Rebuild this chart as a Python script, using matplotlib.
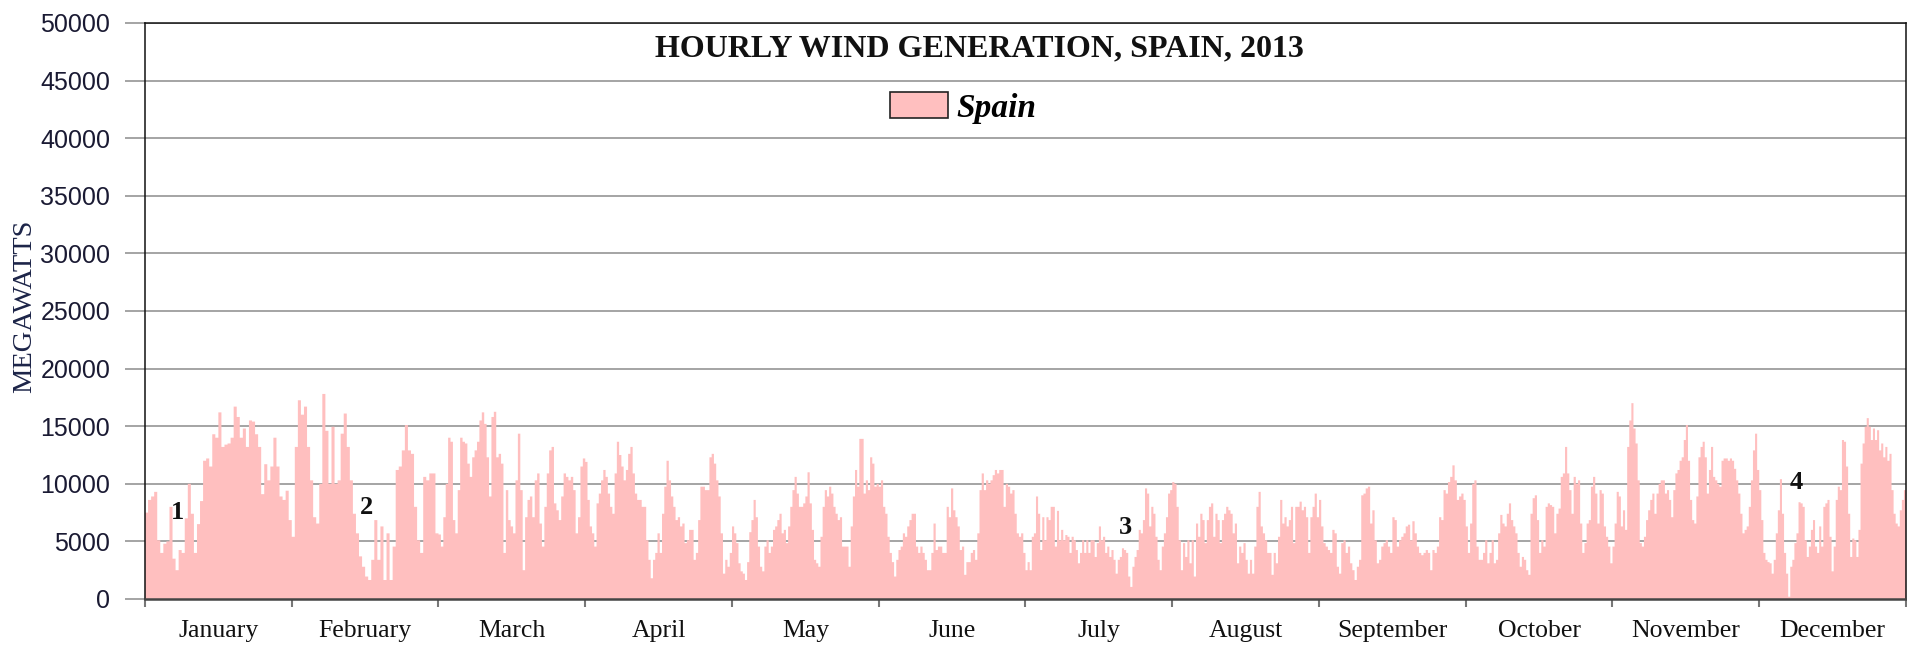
import numpy as np
import matplotlib
matplotlib.use("Agg")
import matplotlib.pyplot as plt
from matplotlib.patches import Patch

# hourly wind output, roughly two readings per day,
# one list per 730-hour month slot of the x axis
jan = [7500, 8600, 8900, 9300, 5100, 4000, 4800, 5000, 8000, 3500, 2500, 4250, 4000, 7000, 10000, 7400,
       4000, 6500, 8500, 12000, 12200, 11500, 14300, 14000, 16200, 13200, 13400, 13500, 14000, 16700, 15800,
       14000, 14800, 13200, 15500, 15400, 14300, 13200, 9100, 11700, 10300, 11500, 14000, 11500, 8900, 8600,
       9400, 6850]
feb = [5400, 13200, 17250, 16000, 16700, 13200, 10300, 7100, 6550, 10000, 17800, 14600, 10000, 14950, 10000,
       10300, 14350, 16100, 13200, 10300, 7400, 5700, 3700, 2800, 1950, 1650, 3400, 6850, 3400, 6300, 1650,
       5700, 1650, 4550, 11200, 11500, 12900, 15100, 12900, 12600, 8000, 5100, 4000, 10600, 10300, 10900,
       10900, 5700]
mar = [5600, 4550, 7100, 10000, 14000, 13650, 6850, 5700, 9450, 14000, 13650, 13500, 11750, 10600, 12300,
       12900, 13650, 15500, 16200, 15200, 12300, 8900, 15800, 16250, 12300, 12600, 11750, 4000, 9450, 6850,
       6300, 5700, 10300, 14350, 9450, 2500, 7100, 8600, 8900, 7100, 10300, 10900, 6550, 4550, 8000, 10900,
       12900, 13200, 8300, 7700, 6850, 8900, 10900, 10600, 10300, 10600, 9450, 5700, 7100, 11500, 12200]
apr = [11900, 8600, 6300, 5700, 4550, 8300, 9150, 10300, 11200, 10600, 9150, 8000, 7400, 10900, 13650, 12500,
       11500, 10300, 11200, 12600, 13200, 10900, 9150, 8600, 8600, 8000, 8000, 5100, 3400, 1800, 3400, 4000,
       5700, 4000, 7400, 9750, 12000, 10300, 8900, 8000, 6850, 7100, 6300, 6550, 4850, 5100, 6000, 6000, 3400,
       4000, 6850, 9750, 9750, 9450, 9450, 12300, 12600, 11750, 10300, 8900, 5700, 2200, 3400, 2800, 4000]
may = [6300, 5700, 4850, 3100, 2400, 2200, 1650, 3200, 5800, 6850, 8600, 7100, 4550, 2800, 2400, 4550, 5100,
       4000, 4550, 6000, 6300, 6850, 7400, 5700, 6000, 4850, 6300, 8000, 9450, 10600, 9150, 8000, 8000, 8300,
       8900, 11000, 8300, 6000, 3400, 3100, 2800, 5400, 8000, 9450, 8900, 9750, 9150, 8000, 7400, 6850, 7100,
       4550, 4550, 4550, 2800, 6300, 8900, 11200, 9750, 13900, 13900, 9150, 10300, 9450, 12300, 11750, 9750,
       10000]
jun = [9750, 10300, 8000, 7400, 5400, 4000, 3200, 1950, 3400, 4250, 4550, 5700, 5400, 6300, 6850, 7400, 7400,
       4550, 4000, 4550, 4000, 3400, 2500, 2500, 4000, 6550, 4250, 4550, 4550, 4000, 4000, 8000, 7100, 9600,
       7700, 7100, 6300, 4250, 4550, 2100, 3200, 3200, 4000, 4250, 3400, 5700, 9450, 10900, 9450, 10300, 10000,
       10300, 10750, 11200, 10900, 11200, 11200, 8000, 10000, 9750, 9150, 9450, 7400, 5700, 5400, 5700, 4000]
jul = [2500, 3200, 2500, 5400, 5700, 8900, 7400, 4250, 7100, 5100, 7100, 6850, 8000, 8000, 4550, 7650, 5100,
       6000, 5100, 5550, 5400, 4000, 5400, 5100, 4250, 3100, 4000, 5100, 4000, 5100, 4000, 5100, 5100, 3650,
       4850, 6300, 5100, 5400, 4000, 4550, 3650, 4250, 3400, 2200, 3400, 3650, 4400, 4250, 4000, 1950, 1050,
       2800, 3650, 4250, 6000, 5700, 6850, 9600, 9150, 6300, 8000, 7400, 5400, 3400, 2500, 4550, 5700, 7100,
       9150, 9450]
aug = [10150, 10000, 8000, 5100, 2500, 4850, 3650, 5100, 3100, 5100, 1950, 6550, 5400, 7400, 6850, 4850, 6850,
       8000, 8300, 5400, 7400, 6850, 4850, 6850, 7400, 8000, 7700, 7400, 5700, 6550, 3100, 4550, 4000, 4850,
       3400, 2200, 3400, 2200, 4550, 8000, 9300, 6300, 5700, 5100, 4000, 4000, 2100, 4000, 3100, 5400, 8600,
       6550, 7100, 6300, 6850, 8000, 4850, 8000, 8000, 8450, 7700, 8000, 7100, 4000, 7100, 8000, 9150, 7100]
sep = [8600, 6300, 4850, 4550, 4250, 4000, 6000, 5700, 2800, 2200, 4850, 5100, 4000, 4550, 3100, 2500, 1650,
       2800, 3400, 9000, 9150, 9600, 9750, 6550, 7700, 5100, 3100, 3400, 4550, 4850, 5100, 4550, 4000, 7100,
       6850, 4550, 5100, 5400, 5700, 6300, 6450, 5100, 6750, 5700, 4550, 4000, 3800, 4000, 4250, 4000, 2500,
       4250, 4000, 4550, 7100, 6850, 9450, 9150, 10150, 10600, 11600, 10300, 8600, 8900, 9150, 8600]
oct = [6300, 4000, 6550, 10000, 10300, 4550, 3400, 3400, 4000, 5100, 3100, 4000, 5100, 3100, 3400, 5700, 7300,
       6550, 6300, 7400, 8300, 6850, 6300, 5700, 4000, 2800, 3650, 3400, 2500, 2100, 7400, 8750, 9000, 6850,
       4000, 5100, 4550, 8000, 8300, 8150, 8000, 5700, 7400, 7850, 10600, 10900, 13200, 10900, 9450, 7400,
       10600, 10000, 10300, 6550, 4000, 4850, 6550, 6850, 9750, 10600, 9150, 6550, 9450, 9150, 6300, 5400,
       4550, 3100]
nov = [4550, 6550, 9300, 8900, 6300, 7700, 6000, 13200, 15500, 17000, 14800, 13500, 10300, 4850, 4550, 5400,
       6850, 7700, 8600, 9150, 7400, 9150, 10000, 10300, 10300, 9150, 9450, 8600, 7100, 9450, 10900, 11200,
       12000, 12300, 13800, 15100, 12000, 8600, 6850, 6550, 8900, 12300, 13200, 13650, 12300, 9150, 11200,
       13200, 10600, 10300, 10000, 9750, 12000, 12200, 12200, 12000, 12200, 12000, 11300, 10300, 9150, 7400,
       5700, 6000, 6300, 8000, 10300, 12900, 14350, 11200]
dec = [9450, 6850, 4000, 3400, 3200, 3100, 2200, 3400, 5700, 7700, 10400, 7400, 4000, 2200, 200, 2800, 3400,
       4850, 5700, 8400, 8300, 8000, 5100, 3650, 4550, 6000, 6850, 4550, 4000, 6300, 4550, 8000, 8300, 8600,
       5400, 2400, 4550, 8600, 9750, 9450, 13800, 13650, 11500, 7400, 3650, 5250, 5100, 3650, 6000, 11750,
       13500, 14950, 15700, 14950, 13800, 14800, 13800, 14650, 12900, 13500, 12300, 13200, 12000, 12600, 9450,
       7400, 6550, 6300, 7700, 8600, 9450]

months = [jan, feb, mar, apr, may, jun, jul, aug, sep, oct, nov, dec]
month_names = ["January", "February", "March", "April", "May", "June", "July",
               "August", "September", "October", "November", "December"]
hours_per_slot = 730
notes = ["1", "2", "3", "4"]
note_x = [164, 1104, 4875, 8213]      # hour
note_y = [7530, 7970, 6230, 10130]   # MW

pink = "#ffbfbf"
serif = ["Liberation Serif", "DejaVu Serif"]
sans = ["Liberation Sans", "DejaVu Sans"]

# spread each month's readings evenly over its slot
values = []
edges = []
for m, vals in enumerate(months):
    e = np.linspace(m * hours_per_slot, (m + 1) * hours_per_slot, len(vals) + 1)[:-1]
    edges.extend(e)
    values.extend(vals)
edges.append(12 * hours_per_slot)

fig = plt.figure(figsize=(19.08, 6.45), dpi=100)
ax = fig.add_axes([145 / 1908, 1 - 599 / 645, 1761 / 1908, 576 / 645])

ax.stairs(values, edges, fill=True, color=pink, zorder=2)

ax.set_xlim(0, 12 * hours_per_slot)
ax.set_ylim(0, 50000)
ax.set_yticks(np.arange(0, 50001, 5000))
ax.grid(axis="y", color="#8c8c8c", linewidth=1.1, zorder=0)
ax.set_axisbelow(True)

ax.set_xticks(np.arange(0, 12 * hours_per_slot + 1, hours_per_slot))
ax.set_xticklabels([])
ax.set_xticks(np.arange(12) * hours_per_slot + hours_per_slot / 2, minor=True)
ax.set_xticklabels(month_names, minor=True, fontsize=18.5, family=serif, color="#111111")
ax.tick_params(axis="x", which="major", length=6, width=1.5, color="#777777")
ax.tick_params(axis="x", which="minor", length=0, pad=15)
ax.tick_params(axis="y", length=14.5, width=1.1, color="#8c8c8c", pad=10.5)
for lab in ax.get_yticklabels():
    lab.set_fontfamily(sans)
    lab.set_fontsize(18)
    lab.set_color("#1a1a33")

for side in ["left", "top", "right"]:
    ax.spines[side].set_color("#111111")
    ax.spines[side].set_linewidth(1.1)
ax.spines["bottom"].set_color("#444444")
ax.spines["bottom"].set_linewidth(1.8)

fig.text(25 / 1908, 1 - 306 / 645, "MEGAWATTS", rotation=90, ha="center", va="center",
         fontsize=20.5, family=serif, color="#1c2448")

ax.text(0.474, 0.955, "HOURLY WIND GENERATION, SPAIN, 2013", transform=ax.transAxes,
        ha="center", va="center", fontsize=23, fontweight="bold", family=serif, color="#111111")

leg = ax.legend(handles=[Patch(facecolor=pink, edgecolor="#222222", linewidth=1.2, label="Spain")],
                loc="center", bbox_to_anchor=(0.4645, 0.852), frameon=False, borderpad=0,
                handlelength=1.75, handleheight=0.82, handletextpad=0.25,
                prop={"family": serif, "weight": "bold", "style": "italic", "size": 24})

for t, x, y in zip(notes, note_x, note_y):
    ax.text(x, y, t, ha="center", va="center", fontsize=19, fontweight="bold", family=serif,
            color="#111111", zorder=3)

fig.savefig("out.png", dpi=100)
